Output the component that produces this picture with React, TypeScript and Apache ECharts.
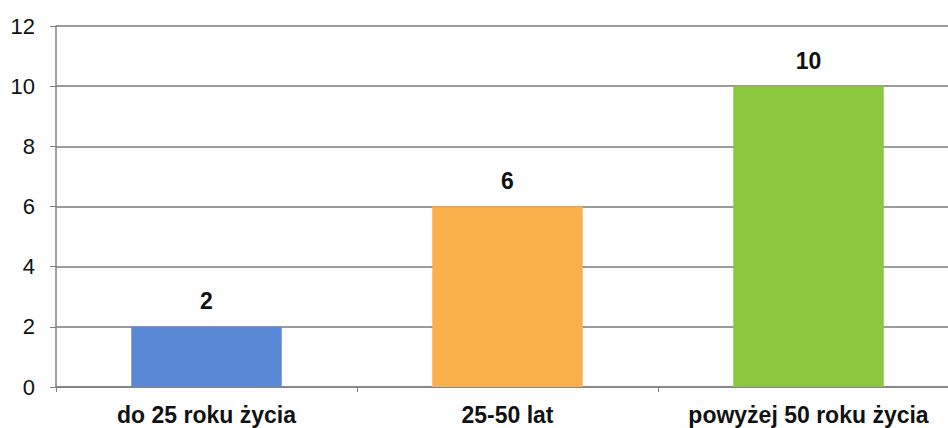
import React, { useEffect, useRef } from "react";
import * as echarts from "echarts";

const categories = ["do 25 roku życia", "25-50 lat", "powyżej 50 roku życia"];
const values = [2, 6, 10];
const barColors = ["#5b87d7", "#fab04a", "#8cc63f"];
const yTicks = { min: 0, max: 12, interval: 2 };

const FONT = "'Liberation Sans', Arial, sans-serif";

export default function App() {
  const ref = useRef<HTMLDivElement>(null);
  useEffect(() => {
    if (!ref.current) return;
    const chart = echarts.init(ref.current, null, { renderer: "svg" });
    chart.setOption({
      animation: false,
      backgroundColor: "#ffffff",
      grid: { left: 56, top: 26, width: 903, height: 361, containLabel: false },
      xAxis: {
        type: "category",
        data: categories,
        axisLine: { show: true, lineStyle: { color: "#808080", width: 1.5 } },
        axisTick: { show: true, length: 5, lineStyle: { color: "#808080" } },
        axisLabel: {
          interval: 0,
          hideOverlap: false,
          color: "#111",
          fontFamily: FONT,
          fontWeight: "bold",
          fontSize: 23,
          margin: 16,
        },
      },
      yAxis: {
        type: "value",
        min: yTicks.min,
        max: yTicks.max,
        interval: yTicks.interval,
        axisLine: { show: true, lineStyle: { color: "#808080", width: 1.5 } },
        axisTick: { show: true, length: 6, lineStyle: { color: "#808080" } },
        splitLine: { show: true, lineStyle: { color: "#7a7a7a", width: 1.5 } },
        axisLabel: {
          color: "#111",
          fontFamily: FONT,
          fontSize: 22,
          margin: 21,
        },
      },
      series: [
        {
          type: "bar",
          barWidth: "50%",
          data: values.map((v, i) => ({ value: v, itemStyle: { color: barColors[i] } })),
          label: {
            show: true,
            position: "top",
            distance: 14,
            color: "#111",
            fontFamily: FONT,
            fontWeight: "bold",
            fontSize: 23,
          },
        },
      ],
    });
    return () => chart.dispose();
  }, []);
  return (
    <div style={{ position: "fixed", left: 0, top: 0, width: 948, height: 428, overflow: "hidden", background: "#fff" }}>
      <div ref={ref} style={{ width: 975, height: 428 }} />
    </div>
  );
}
